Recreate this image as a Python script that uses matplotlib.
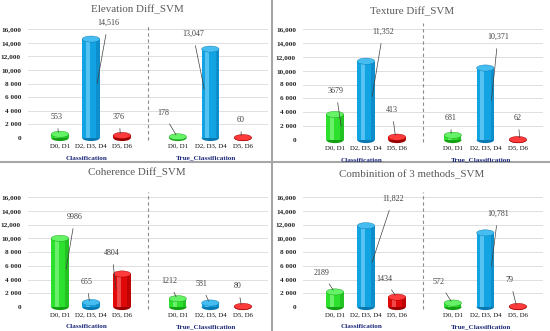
import matplotlib
matplotlib.use("Agg")
import matplotlib.pyplot as plt
from matplotlib.patches import Ellipse
from matplotlib.lines import Line2D

plt.rcParams['font.family'] = ['Liberation Serif', 'DejaVu Serif']

# ---------------- data ----------------
titles = ["Elevation Diff_SVM", "Texture Diff_SVM",
          "Coherence Diff_SVM", "Combinition of 3 methods_SVM"]
categories = ["D0, D1", "D2, D3, D4", "D5, D6"]
groups = ["Classification", "True_Classification"]

elev_class = [553, 14516, 376]
elev_true = [178, 13047, 60]
text_class = [3679, 11352, 413]
text_true = [681, 10371, 62]
coh_class = [9986, 655, 4804]
coh_true = [1212, 581, 80]
comb_class = [2189, 11822, 1434]
comb_true = [572, 10781, 79]

value_labels_elev = ["553", "14,516", "376", "178", "13,047", "60"]
value_labels_text = ["3679", "11,352", "413", "681", "10,371", "62"]
value_labels_coh = ["9986", "655", "4804", "1212", "581", "80"]
value_labels_comb = ["2189", "11,822", "1434", "572", "10,781", "79"]

ytick_values = [0, 2000, 4000, 6000, 8000, 10000, 12000, 14000, 16000]
ytick_labels = ["0", "2 000", "4 000", "6 000", "8 000",
                "10,000", "12,000", "14,000", "16,000"]

panels_data = [
    (elev_class, elev_true, value_labels_elev),
    (text_class, text_true, value_labels_text),
    (coh_class, coh_true, value_labels_coh),
    (comb_class, comb_true, value_labels_comb),
]

# ---------------- layout (pixels) ----------------
W, H = 550, 331
# panel origin x, y of zero line, y of 16000 line, title y
panel_geo = [
    (0, 138, 29, 10),
    (275, 140, 29, 12),
    (0, 307, 197, 173),
    (275, 307, 197, 175),
]
# label positions relative to panel origin x, absolute y (pixels, top-down)
label_pos = [
    [(57, 117), (108, 23), (119, 117), (163, 113), (193, 34), (241, 120)],
    [(61, 91), (108, 32), (117, 110), (176, 118), (223, 37), (243, 118)],
    [(75, 217), (87, 282), (112, 253), (169, 281), (201, 284), (238, 286)],
    [(47, 273), (118, 199), (109, 279), (164, 282), (223, 214), (235, 280)],
]

colors_main = ['#2ee02e', '#12a3e3', '#e00808']
colors_top = ['#66f266', '#45bdf0', '#ff3a3a']
colors_dark = ['#14a014', '#0a78b0', '#9a0000']
colors_hi = ['#9cff9c', '#8fdcff', '#ff8080']

pos_g1 = [0.0, 1.0, 2.0]
pos_g2 = [3.8, 4.85, 5.9]
dash_x = 2.85
unit_px = 31.0
first_bar_px = 60.0
ax_left_px, ax_right_px = 28, 268
bw = 0.56

fig = plt.figure(figsize=(W / 100, H / 100), dpi=100)

for i, (vals1, vals2, vlabels) in enumerate(panels_data):
    px0, y0, y16, ty = panel_geo[i]
    left = (px0 + ax_left_px) / W
    width = (ax_right_px - ax_left_px) / W
    bottom = 1 - y0 / H
    height = (y0 - y16) / H
    ax = fig.add_axes([left, bottom, width, height])
    xmin = (ax_left_px - first_bar_px) / unit_px
    xmax = (ax_right_px - first_bar_px) / unit_px
    ax.set_xlim(xmin, xmax)
    ax.set_ylim(0, 16000)
    for s in ax.spines.values():
        s.set_visible(False)
    ax.set_yticks(ytick_values)
    ax.set_yticklabels(ytick_labels, fontsize=5.2, fontweight='bold',
                       color='#262626')
    ax.tick_params(axis='y', length=0, pad=5)
    ax.set_xticks([])
    for yv in ytick_values:
        ax.axhline(yv, color='#d9d9d9', lw=0.6, zorder=0)
    # dashed group separator
    ax.plot([dash_x, dash_x], [-300, 16800], ls=(0, (3, 2.5)),
            color='#8c8c8c', lw=0.8, clip_on=False, zorder=1)

    positions = pos_g1 + pos_g2
    values = list(vals1) + list(vals2)
    eh = 900
    for j, (xp, v) in enumerate(zip(positions, values)):
        c = j % 3
        # bottom ellipse
        ax.add_patch(Ellipse((xp, 0), bw, eh, facecolor=colors_dark[c],
                             edgecolor='none', zorder=2, clip_on=False))
        ax.bar(xp, v, width=bw, color=colors_main[c], zorder=3,
               edgecolor='none')
        # shading strips
        ax.bar(xp - bw * 0.18, v, width=bw * 0.22, color=colors_hi[c],
               alpha=0.55, zorder=3.1, edgecolor='none')
        ax.bar(xp + bw * 0.4, v, width=bw * 0.2, color=colors_dark[c],
               alpha=0.45, zorder=3.1, edgecolor='none')
        ax.add_patch(Ellipse((xp, v), bw, eh, facecolor=colors_top[c],
                             edgecolor=colors_dark[c], lw=0.3, zorder=4,
                             clip_on=False))
        # value label with leader line
        lx, ly = label_pos[i][j]
        lx_fig = px0 + lx
        ly_fig = H - ly
        bar_px = px0 + first_bar_px + xp * unit_px
        side = 1 if lx_fig >= bar_px else -1
        if v > 3000:
            target = (xp + side * bw * 0.35, v * 0.55)
        else:
            target = (xp + side * bw * 0.1, v + eh * 0.3)
        ax.annotate(vlabels[j], xy=target, xytext=(lx_fig, ly_fig),
                    textcoords='figure pixels', ha='center', va='center',
                    fontsize=5.8, color='#404040', zorder=6,
                    annotation_clip=False,
                    arrowprops=dict(arrowstyle='-', color='#404040', lw=0.5,
                                    shrinkA=3.5, shrinkB=0))
        # category label
        fig.text(bar_px / W, 1 - (y0 + 8) / H, categories[c],
                 ha='center', va='center', fontsize=4.9, color='#111111')
    # group labels
    g1c = px0 + first_bar_px + 0.85 * unit_px
    g2c = px0 + first_bar_px + 4.7 * unit_px
    for gx, gname in zip([g1c, g2c], groups):
        fig.text(gx / W, 1 - (y0 + 20) / H, gname, ha='center', va='center',
                 fontsize=5.2, fontweight='bold', color='#1f2a7a')
    # title
    fig.text((px0 + 137) / W, 1 - ty / H, titles[i], ha='center',
             va='center', fontsize=7.9, color='#595959')

# panel borders
fig.add_artist(Line2D([272 / W, 272 / W], [0, 1], color='#a6a6a6', lw=1.5))
fig.add_artist(Line2D([0, 1], [1 - 162 / H, 1 - 162 / H], color='#a6a6a6',
                      lw=1.5))

fig.savefig("out.png", dpi=100)
